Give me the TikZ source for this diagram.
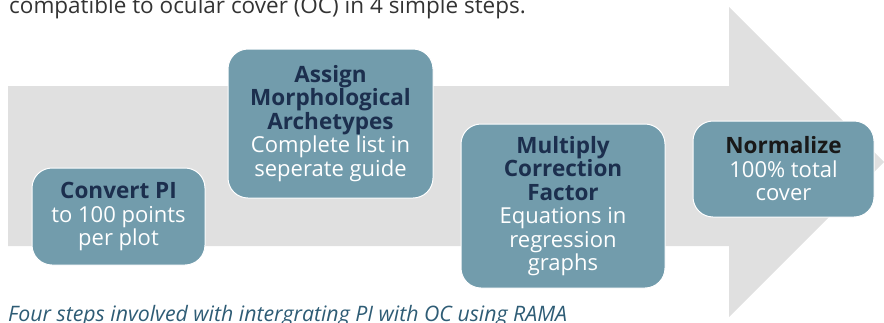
\documentclass[tikz,border=0pt]{standalone}
\usepackage{fontspec}
\setmainfont{Open Sans}
\usetikzlibrary{positioning}

\definecolor{arrowgray}{HTML}{E0E0E0}
\definecolor{stepfill}{HTML}{729CAC}
\definecolor{titlenavy}{HTML}{1C2F4E}
\definecolor{captionblue}{HTML}{2E5C75}
\definecolor{headgray}{HTML}{333333}

\newcommand{\steptitle}[1]{{\fontsize{22.5}{23.5}\selectfont\bfseries\color{titlenavy}#1}}

\tikzset{
  stepbox/.style={draw=white, line width=1pt, fill=stepfill, rounded corners=20pt,
    align=center, text=white, inner sep=0pt,
    font=\fontsize{22}{23.5}\selectfont}
}

\begin{document}
\begin{tikzpicture}[x=1pt,y=-1pt]

    \useasboundingbox (0,0) rectangle (884,322);
    \clip (0,0) rectangle (884,322);

    \node[anchor=base west, text=headgray, inner sep=0pt, font=\fontsize{22.5}{24}\selectfont]
      (head) at (9,13.5) {compatible to ocular cover (OC) in 4 simple steps.};

    \fill[arrowgray] (8,86) -- (729,86) -- (729,7) -- (884,162) -- (729,317)
      -- (729,246) -- (8,246) -- cycle;

    \node[stepbox, minimum width=173pt, minimum height=97pt] (convert) at (118.5,216.5)
      {\steptitle{Convert PI}\\to 100 points\\per plot};

    \node[stepbox, minimum width=205pt, minimum height=149pt] (assign) at (330.5,123.5)
      {\steptitle{Assign}\\\steptitle{Morphological}\\\steptitle{Archetypes}\\Complete list in\\seperate guide};

    \node[stepbox, minimum width=204pt, minimum height=164pt] (multiply) at (563,206)
      {\steptitle{Multiply}\\\steptitle{Correction}\\\steptitle{Factor}\\Equations in\\regression\\graphs};

    \node[stepbox, minimum width=181pt, minimum height=96pt] (normalize) at (783.5,169)
      {{\fontsize{22.5}{23.5}\selectfont\bfseries\color{black!90}Normalize}\\100\% total\\cover};

    \node[anchor=base west, text=captionblue, inner sep=0pt, font=\fontsize{21.3}{24}\selectfont\itshape]
      (caption) at (8,321) {Four steps involved with intergrating PI with OC using RAMA};

  \end{tikzpicture}
\end{document}
